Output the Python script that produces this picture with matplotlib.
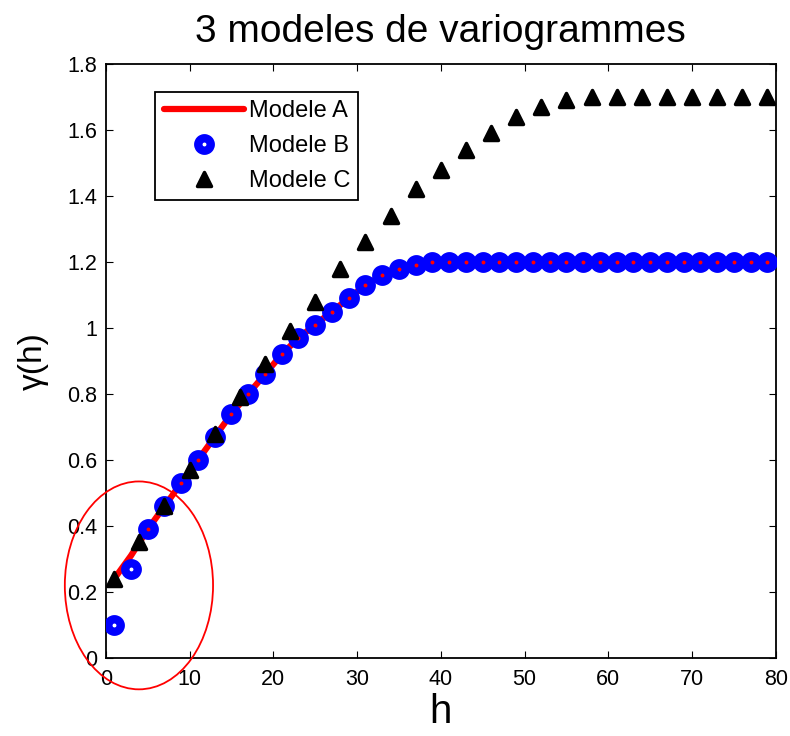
import matplotlib
matplotlib.use('Agg')
import matplotlib.pyplot as plt
from matplotlib.patches import Ellipse
from matplotlib.markers import MarkerStyle

plt.rcParams['font.family'] = ['Liberation Sans', 'DejaVu Sans']

# Modele A (ligne continue)
h_a = [1, 3, 5, 7, 9, 11, 13, 15, 17, 19, 21, 23, 25, 27, 29, 31, 33, 35, 37, 39,
       41, 43, 45, 47, 49, 51, 53, 55, 57, 59, 61, 63, 65, 67, 69, 71, 73, 75, 77, 79]
gamma_a = [0.24, 0.31, 0.39, 0.46, 0.53, 0.60, 0.67, 0.74, 0.80, 0.86, 0.92, 0.97,
           1.01, 1.05, 1.09, 1.13, 1.16, 1.18, 1.19, 1.2,
           1.2, 1.2, 1.2, 1.2, 1.2, 1.2, 1.2, 1.2, 1.2, 1.2,
           1.2, 1.2, 1.2, 1.2, 1.2, 1.2, 1.2, 1.2, 1.2, 1.2]

# Modele B (cercles)
h_b = h_a
gamma_b = [0.10, 0.27, 0.39, 0.46, 0.53, 0.60, 0.67, 0.74, 0.80, 0.86, 0.92, 0.97,
           1.01, 1.05, 1.09, 1.13, 1.16, 1.18, 1.19, 1.2,
           1.2, 1.2, 1.2, 1.2, 1.2, 1.2, 1.2, 1.2, 1.2, 1.2,
           1.2, 1.2, 1.2, 1.2, 1.2, 1.2, 1.2, 1.2, 1.2, 1.2]

# Modele C (triangles)
h_c = [1, 4, 7, 10, 13, 16, 19, 22, 25, 28, 31, 34, 37, 40, 43, 46, 49, 52, 55, 58,
       61, 64, 67, 70, 73, 76, 79]
gamma_c = [0.24, 0.35, 0.46, 0.57, 0.68, 0.79, 0.89, 0.99, 1.08, 1.18, 1.26, 1.34,
           1.42, 1.48, 1.54, 1.59, 1.64, 1.67, 1.69, 1.7,
           1.7, 1.7, 1.7, 1.7, 1.7, 1.7, 1.7]

fig = plt.figure(figsize=(7.9, 7.36), dpi=100)
ax = fig.add_axes([0.134, 0.106, 0.848, 0.807])

ax.plot(h_a, gamma_a, color='red', linewidth=4.5, solid_capstyle='round',
        label='Modele A', zorder=2)
ax.plot(h_b, gamma_b, 'o', color='blue', markerfacecolor='none', markersize=9,
        markeredgewidth=6, label='Modele B', zorder=3)
tri = MarkerStyle('^', joinstyle='round')
ax.plot(h_c, gamma_c, linestyle='none', marker=tri, color='black', markersize=10,
        markeredgewidth=2.5, label='Modele C', zorder=4)

# ellipse rouge autour de l'origine
ell = Ellipse((3.95, 0.22), 17.7, 0.63, fill=False, edgecolor='red',
              linewidth=1.3, clip_on=False, zorder=5)
ax.add_patch(ell)

ax.set_xlim(0, 80)
ax.set_ylim(0, 1.8)
ax.set_xticks(range(0, 81, 10))
ax.set_yticks([0, 0.2, 0.4, 0.6, 0.8, 1, 1.2, 1.4, 1.6, 1.8])
ax.set_yticklabels(['0', '0.2', '0.4', '0.6', '0.8', '1', '1.2', '1.4', '1.6', '1.8'])
ax.tick_params(direction='in', top=True, right=True, labelsize=15.5, length=5)
ax.tick_params(axis='x', pad=8)
ax.tick_params(axis='y', pad=6)
for s in ax.spines.values():
    s.set_linewidth(1.3)

ax.set_title('3 modeles de variogrammes', fontsize=28, pad=16)
ax.set_xlabel('h', fontsize=29, labelpad=2)
ax.set_ylabel('\u03b3(h)', fontsize=24, labelpad=13)

leg = ax.legend(loc='upper left', bbox_to_anchor=(0.074, 0.953), fontsize=17,
                handlelength=3.4, fancybox=False, edgecolor='black', framealpha=1,
                borderpad=0.35, labelspacing=0.55, handletextpad=0.2,
                borderaxespad=0)
leg.get_frame().set_linewidth(1.3)

plt.savefig('out.png')
